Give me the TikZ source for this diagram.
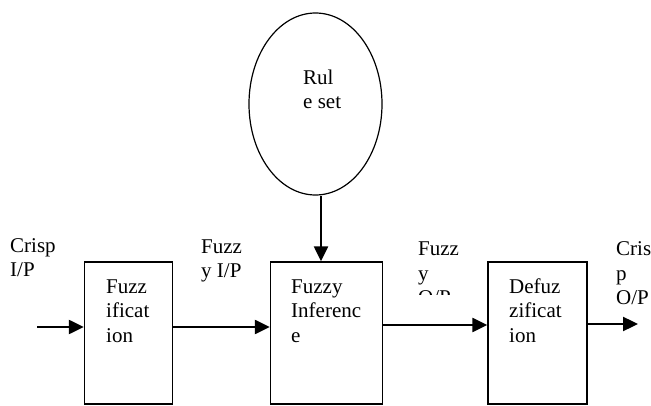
\documentclass[tikz,border=0pt]{standalone}
\usepackage{fontspec}
\setmainfont{Liberation Serif}
\usetikzlibrary{arrows.meta,shapes.geometric}
\tikzset{
  block/.style={draw, line width=1.4pt, minimum height=142pt, inner sep=0pt},
  flow/.style={line width=2.4pt, -{Triangle[length=15pt,width=14pt]}},
  % anchored at the baseline of the last line
  lbl/.style={font=\fontsize{21pt}{24.5pt}\selectfont, align=left, anchor=base west, inner sep=0pt}
}
\begin{document}
\begin{tikzpicture}[x=1pt,y=-1pt]
\useasboundingbox (0,0) rectangle (651,406);

% processing blocks
\node[block, minimum width=88pt] (fuzz) at (128.5,333) {};
\node[block, minimum width=112pt] (inf) at (326.5,333) {};
\node[block, minimum width=99pt] (defuz) at (537.5,333) {};

% rule base
\node[draw, ellipse, line width=1.2pt, minimum width=133pt, minimum height=182pt, inner sep=0pt] (rules) at (315.5,104) {};

% block labels
\node[lbl] at (106,342) {Fuzz\\ificat\\ion};
\node[lbl] at (291,342) {Fuzzy\\Inferenc\\e};
\node[lbl] at (509,342) {Defuz\\zificat\\ion};
\node[lbl] at (303,109) {Rul\\e set};

% signal labels
\node[lbl] at (10,277) {Crisp\\I/P};
\node[lbl] at (201,278) {Fuzz\\y I/P};
\begin{scope}
  \clip (410,230) rectangle (470,294.5);
  \node[lbl] at (418,305) {Fuzz\\y\\O/P};
\end{scope}
\node[lbl] at (616,305) {Cris\\p\\O/P};

% signal flow
\coordinate (in) at (37,327);
\coordinate (out) at (638,324);
\draw[flow] (in) -- (fuzz.west |- in);
\draw[flow] (fuzz.east |- in) -- (inf.west |- in);
\draw[flow] (inf.east |- 0,325) -- (defuz.west |- 0,325);
\draw[flow] (defuz.east |- out) -- (out);
\draw[flow] (rules.south -| 321,0) -- (inf.north -| 321,0);
\end{tikzpicture}
\end{document}
